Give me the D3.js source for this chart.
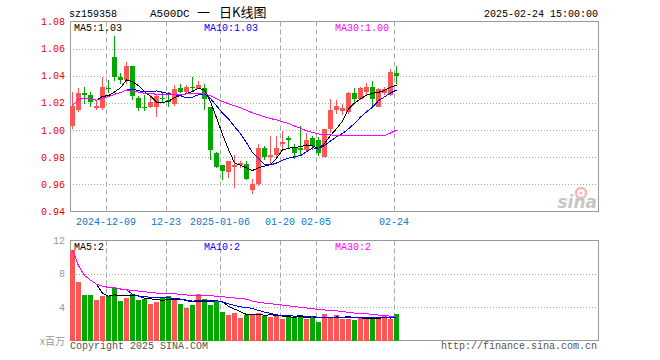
<!DOCTYPE html>
<html>
<head>
<meta charset="utf-8">
<script src="https://cdn.jsdelivr.net/npm/d3@7"></script>
<style>
body{margin:0;background:#fff}
text{font-family:"Liberation Mono",monospace;font-size:10px}
</style>
</head>
<body>
<svg id="chart" width="660" height="360"></svg>
<script>
// trading days shown
const dates = ["2024-11-29","2024-12-02","2024-12-03","2024-12-04","2024-12-05","2024-12-06","2024-12-09","2024-12-10","2024-12-11","2024-12-12",
  "2024-12-13","2024-12-16","2024-12-17","2024-12-18","2024-12-19","2024-12-20","2024-12-23","2024-12-24","2024-12-25","2024-12-26",
  "2024-12-27","2024-12-30","2024-12-31","2025-01-02","2025-01-03","2025-01-06","2025-01-07","2025-01-08","2025-01-09","2025-01-10",
  "2025-01-13","2025-01-14","2025-01-15","2025-01-16","2025-01-17","2025-01-20","2025-01-21","2025-01-22","2025-01-23","2025-01-24",
  "2025-01-27","2025-02-05","2025-02-06","2025-02-07","2025-02-10","2025-02-11","2025-02-12","2025-02-13","2025-02-14","2025-02-17",
  "2025-02-18","2025-02-19","2025-02-20","2025-02-21","2025-02-24"];
const opens = [1.003,1.015,1.027,1.026,1.016,1.016,1.031,1.054,1.039,1.037,
  1.047,1.024,1.017,1.017,1.017,1.024,1.022,1.019,1.031,1.028,
  1.032,1.030,1.031,1.017,0.983,0.974,0.969,0.973,0.974,0.975,
  0.956,0.960,0.987,0.980,0.982,0.990,0.994,0.987,0.987,0.985,
  0.994,0.993,0.980,1.001,1.015,1.014,1.013,1.027,1.023,1.028,
  1.032,1.017,1.027,1.026,1.042];
const closes = [1.018,1.027,1.026,1.021,1.018,1.032,1.030,1.039,1.037,1.047,
  1.025,1.016,1.016,1.021,1.025,1.023,1.021,1.030,1.028,1.032,
  1.031,1.033,1.023,0.985,0.973,0.970,0.977,0.974,0.976,0.964,
  0.960,0.987,0.980,0.982,0.987,0.991,0.993,0.983,0.985,0.993,
  0.988,0.983,1.001,1.015,1.018,1.016,1.027,1.023,1.031,1.032,
  1.023,1.030,1.030,1.043,1.040];
const highs = [1.028,1.031,1.032,1.028,1.022,1.039,1.037,1.069,1.042,1.050,
  1.047,1.025,1.026,1.026,1.026,1.027,1.028,1.033,1.034,1.033,
  1.039,1.036,1.034,1.017,0.984,0.974,0.977,0.982,0.977,0.977,
  0.964,0.990,0.988,0.996,0.996,0.999,0.996,0.990,1.003,0.998,
  0.996,0.995,1.001,1.023,1.022,1.019,1.028,1.031,1.032,1.035,
  1.036,1.031,1.032,1.045,1.047];
const lows = [1.001,1.013,1.019,1.017,1.015,1.015,1.027,1.036,1.034,1.034,
  1.022,1.014,1.014,1.016,1.010,1.020,1.017,1.018,1.027,1.027,
  1.029,1.030,1.015,0.978,0.972,0.963,0.965,0.957,0.972,0.963,
  0.953,0.959,0.978,0.975,0.979,0.986,0.986,0.979,0.981,0.984,
  0.985,0.981,0.980,0.998,1.012,1.011,1.012,1.020,1.022,1.026,
  1.017,1.017,1.026,1.025,1.034];
// volume in millions of shares
const volumes = [10.87,7.07,5.49,5.49,4.89,5.37,5.37,6.30,4.77,5.13,
  5.62,4.89,5.01,4.40,4.65,5.13,5.37,5.13,4.40,3.92,
  4.28,5.62,5.01,4.28,4.77,3.43,3.07,3.31,2.71,3.07,
  3.19,3.31,2.95,2.83,2.95,2.59,2.83,2.83,3.07,2.59,
  2.83,2.22,3.19,2.83,3.07,2.63,2.63,2.46,2.87,2.55,
  2.87,2.55,2.95,2.55,3.23];
const priceTicks = [1.08,1.06,1.04,1.02,1.00,0.98,0.96,0.94];
const volTicks = [12,8,4];
const tickDates = ["2024-12-09","2024-12-23","2025-01-06","2025-01-20","2025-02-05","2025-02-24"];
const tickLabels = ["2024-12-09","12-23","2025-01-06","01-20","02-05","02-24"];

const RED = "#ff5555", GREEN = "#00a800", GRID = "#a8a8a8";
const svg = d3.select("#chart");

const left = 70, right = 598;
const x = d3.scaleLinear().domain([0, 88]).range([left, right]);
const y = d3.scaleLinear().domain([0.94, 1.08]).range([211.5, 21.5]);
const vy = d3.scaleLinear().domain([0, 12]).range([340.5, 240.5]);

const data = dates.map((d, i) => ({i, date: d, o: opens[i], c: closes[i], h: highs[i], l: lows[i], v: volumes[i]}));

// moving averages: short ones need a full window, MA30 grows from the first day
function movingAvg(arr, n, expanding) {
  return arr.map((_, i) => {
    if (i < n - 1 && !expanding) return null;
    const s = arr.slice(Math.max(0, i - n + 1), i + 1);
    return d3.mean(s);
  });
}

// ---------- header ----------
svg.append("text").attr("x", 69).attr("y", 17).attr("fill", "#000").text("sz159358");
svg.append("text").attr("x", 150).attr("y", 17).attr("fill", "#000").style("font-size", "11px").text("A500DC");
svg.append("text").attr("x", 197).attr("y", 17).attr("fill", "#000")
  .style("font-family", "'Noto Sans CJK SC'").style("font-size", "13px").text("一");
svg.append("text").attr("x", 219).attr("y", 17).attr("fill", "#000")
  .style("font-family", "'Noto Sans CJK SC'").style("font-size", "13px").text("日K线图");
svg.append("text").attr("x", 598).attr("y", 17).attr("text-anchor", "end").attr("fill", "#000")
  .text("2025-02-24 15:00:00");

// ---------- panels ----------
function panel(top, bottom, hTicks, scale) {
  const g = svg.append("g");
  g.selectAll(".hg").data(hTicks).join("line")
    .attr("x1", left).attr("x2", right)
    .attr("y1", d => Math.round(scale(d)) + 0.5).attr("y2", d => Math.round(scale(d)) + 0.5)
    .attr("stroke", GRID).attr("stroke-dasharray", "1,2");
  g.selectAll(".vg").data(tickDates).join("line")
    .attr("x1", d => x(dates.indexOf(d)) + 0.5).attr("x2", d => x(dates.indexOf(d)) + 0.5)
    .attr("y1", top).attr("y2", bottom)
    .attr("stroke", GRID).attr("stroke-dasharray", "5,3");
  g.append("rect").attr("x", left + 0.5).attr("y", top).attr("width", right - left).attr("height", bottom - top)
    .attr("fill", "none").attr("stroke", "#999");
  return g;
}
panel(21.5, 211.5, priceTicks.slice(1, -1), y);
panel(240.5, 340.5, volTicks.slice(1), vy);

// sina watermark
const logo = svg.append("g").attr("opacity", 0.55);
logo.append("circle").attr("cx", 581).attr("cy", 193).attr("r", 5).attr("fill", "none").attr("stroke", "#f08080").attr("stroke-width", 2.5);
logo.append("circle").attr("cx", 581).attr("cy", 193).attr("r", 1.5).attr("fill", "#f08080");
logo.append("text").attr("x", 597).attr("y", 208).attr("text-anchor", "end")
  .style("font-family", "'DejaVu Sans'").style("font-size", "17px").style("font-weight", "bold").style("font-style", "italic")
  .attr("fill", "#999").text("sina");

// ---------- y labels ----------
svg.selectAll(".py").data(priceTicks).join("text")
  .attr("x", 65).attr("y", d => y(d)).attr("dy", "0.35em").attr("text-anchor", "end")
  .attr("fill", "#e00").text(d => d.toFixed(2));
svg.selectAll(".vyl").data(volTicks).join("text")
  .attr("x", 65).attr("y", d => vy(d)).attr("dy", "0.35em").attr("text-anchor", "end")
  .attr("fill", "#999").text(d => d);
svg.append("text").attr("x", 65).attr("y", 345).attr("text-anchor", "end").attr("fill", "#999")
  .style("font-family", "'Noto Sans CJK SC'").style("font-size", "10px").text("x百万");

// ---------- x labels ----------
svg.selectAll(".xl").data(tickDates).join("text")
  .attr("x", d => x(dates.indexOf(d))).attr("y", 225).attr("text-anchor", "middle")
  .attr("fill", "#0a78d0").text((d, k) => tickLabels[k]);

// ---------- candles ----------
const cg = svg.append("g").attr("shape-rendering", "crispEdges");
cg.selectAll(".wick").data(data).join("line")
  .attr("x1", d => x(d.i) + 2.5).attr("x2", d => x(d.i) + 2.5)
  .attr("y1", d => y(d.h)).attr("y2", d => y(d.l))
  .attr("stroke", d => d.c >= d.o ? RED : GREEN);
cg.selectAll(".body").data(data).join("rect")
  .attr("x", d => x(d.i)).attr("width", 5)
  .attr("y", d => y(Math.max(d.o, d.c)))
  .attr("height", d => Math.max(1, Math.abs(y(d.o) - y(d.c))))
  .attr("fill", d => d.c >= d.o ? RED : GREEN);

// ---------- volume bars ----------
svg.append("g").attr("shape-rendering", "crispEdges")
  .selectAll("rect").data(data).join("rect")
  .attr("x", d => x(d.i)).attr("width", 5)
  .attr("y", d => vy(d.v)).attr("height", d => vy(0) - vy(d.v))
  .attr("fill", d => d.c >= d.o ? RED : GREEN);

// ---------- MA lines ----------
const maDefs = [{n: 5, color: "#000", exp: false, lx: 74}, {n: 10, color: "#0000ff", exp: false, lx: 204}, {n: 30, color: "#ff00ff", exp: true, lx: 335}];
maDefs.forEach(m => {
  const pm = movingAvg(closes, m.n, m.exp);
  const vm = movingAvg(volumes, m.n, m.exp);
  const line = sc => d3.line().defined(d => d != null).x((d, i) => x(i) + 2.5).y(d => sc(d));
  svg.append("path").datum(pm).attr("d", line(y)).attr("fill", "none").attr("stroke", m.color).attr("shape-rendering", "crispEdges");
  svg.append("path").datum(vm).attr("d", line(vy)).attr("fill", "none").attr("stroke", m.color).attr("shape-rendering", "crispEdges");
  svg.append("text").attr("x", m.lx).attr("y", 31).attr("fill", m.color)
    .text("MA" + m.n + ":" + pm[pm.length - 1].toFixed(2));
  svg.append("text").attr("x", m.lx).attr("y", 250).attr("fill", m.color)
    .text("MA" + m.n + ":" + Math.floor(vm[vm.length - 1]));
});

// ---------- footer ----------
svg.append("text").attr("x", 70).attr("y", 349).attr("fill", "#555").text("Copyright 2025 SINA.COM");
svg.append("text").attr("x", 597).attr("y", 349).attr("text-anchor", "end").attr("fill", "#555").text("http://finance.sina.com.cn");
</script>
</body>
</html>
